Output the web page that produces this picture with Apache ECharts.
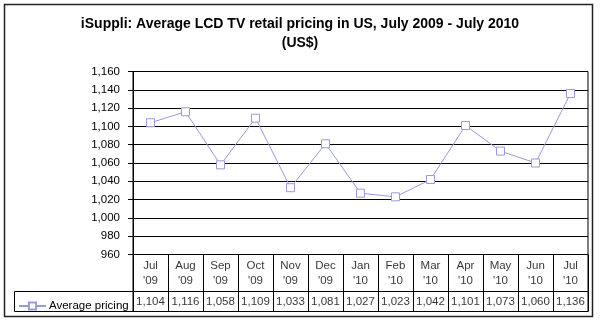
<!DOCTYPE html>
<html><head><meta charset="utf-8">
<script src="https://cdn.jsdelivr.net/npm/echarts@6/dist/echarts.min.js"></script>
<style>html,body{margin:0;padding:0;background:#fff}#c{width:600px;height:323px}</style>
</head><body><div id="c"></div>
<script>
const months = ["Jul","Aug","Sep","Oct","Nov","Dec","Jan","Feb","Mar","Apr","May","Jun","Jul"];
const years = ["'09","'09","'09","'09","'09","'09","'10","'10","'10","'10","'10","'10","'10"];
const categories = months.map((m,i)=>m+"\n"+years[i]);
const pricing = [1104,1116,1058,1109,1033,1081,1027,1023,1042,1101,1073,1060,1136];
const seriesName = "Average pricing";
const yTicks = {min:960, max:1160, interval:20};

const FONT = "'Liberation Sans', Arial, sans-serif";
const fmt = v => v.toLocaleString('en-US');
const L = 133, W = 455;

const chart = echarts.init(document.getElementById('c'), null, {renderer:'canvas'});
chart.setOption({
  animation:false,
  backgroundColor:'#fff',
  textStyle:{fontFamily:FONT},
  title:{
    text:"iSuppli: Average LCD TV retail pricing in US, July 2009 - July 2010\n(US$)",
    left:'center', top:10,
    textStyle:{fontFamily:FONT, fontSize:14, fontWeight:'bold', color:'#000', lineHeight:18.5}
  },
  graphic:[
    {type:'rect', shape:{x:4.5,y:4.5,width:588,height:312}, style:{fill:null, stroke:'#222', lineWidth:1.5}, z:-1},
    {type:'rect', shape:{x:14.5,y:291.5,width:L-14,height:20}, style:{fill:null, stroke:'#000', lineWidth:1}}
  ],
  legend:{
    data:[seriesName], left:13, top:295, itemWidth:27, itemHeight:9, itemGap:0,
    textStyle:{fontFamily:FONT, fontSize:11.5, color:'#000', padding:[0,0,0,-2]}
  },
  grid:[
    {left:L, top:71.5, width:W, height:183, show:true, borderColor:'#000', borderWidth:1, backgroundColor:'#fff'},
    {left:L, top:254.5, width:W, height:37, show:true, borderColor:'#000', borderWidth:1},
    {left:L, top:291.5, width:W, height:20, show:true, borderColor:'#000', borderWidth:1}
  ],
  xAxis:[
    {gridIndex:0, type:'category', data:categories, boundaryGap:true, axisLine:{show:false}, axisTick:{show:false}, axisLabel:{show:false}},
    {gridIndex:1, type:'category', data:categories, boundaryGap:true, axisLine:{show:false}, axisTick:{show:false}, axisLabel:{show:false},
      splitLine:{show:true, interval:0, lineStyle:{color:'#000', width:1}}},
    {gridIndex:2, type:'category', data:categories, boundaryGap:true, axisLine:{show:false}, axisTick:{show:false}, axisLabel:{show:false},
      splitLine:{show:true, interval:0, lineStyle:{color:'#000', width:1}}}
  ],
  yAxis:[
    {gridIndex:0, type:'value', min:yTicks.min, max:yTicks.max, interval:yTicks.interval,
      axisLine:{show:true, lineStyle:{color:'#000'}}, axisTick:{show:true, length:5, lineStyle:{color:'#000'}},
      axisLabel:{fontFamily:FONT, fontSize:11.5, color:'#000', margin:13, formatter:v=>fmt(v)},
      splitLine:{show:true, lineStyle:{color:'#000', width:1}}},
    {gridIndex:1, type:'value', min:0, max:1, show:false},
    {gridIndex:2, type:'value', min:0, max:1, show:false}
  ],
  series:[
    {name:seriesName, type:'line', xAxisIndex:0, yAxisIndex:0, data:pricing,
      symbol:'rect', symbolSize:8, showAllSymbol:true,
      itemStyle:{color:'#fff', borderColor:'#9999dd', borderWidth:1},
      lineStyle:{color:'#9999dd', width:1}},
    {type:'scatter', xAxisIndex:1, yAxisIndex:1, symbolSize:0, silent:true,
      data:categories.map((c,i)=>({name:c, value:[i,0.5]})),
      label:{show:true, position:'inside', formatter:p=>p.name, fontFamily:FONT, fontSize:11.5, color:'#000', lineHeight:15}},
    {type:'scatter', xAxisIndex:2, yAxisIndex:2, symbolSize:0, silent:true,
      data:pricing.map((v,i)=>({name:categories[i], value:[i,0.5,v]})),
      label:{show:true, position:'inside', formatter:p=>fmt(p.value[2]), fontFamily:FONT, fontSize:11.5, color:'#000'}}
  ]
});
</script></body></html>
